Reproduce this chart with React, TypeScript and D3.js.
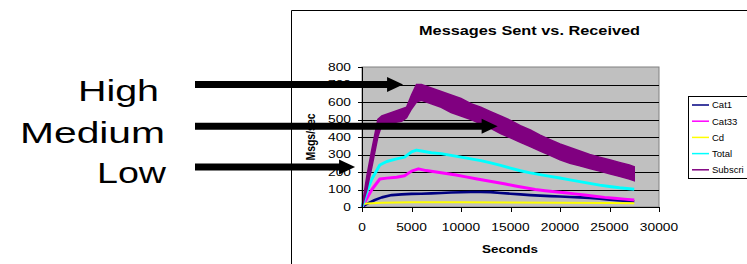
import React from "react";
import * as d3 from "d3";

const seriesNames = ["Cat1", "Cat33", "Cd", "Total", "Subscri"];
const seriesColors = ["#000080", "#FF00FF", "#FFFF00", "#00FFFF", "#800080"];

const cat1X = [0, 500, 1300, 2000, 3000, 4000, 5000, 6000, 7000, 8000, 9000, 10000, 11000, 12000, 13000, 14000, 15000, 16000, 17000, 18000, 19000, 20000, 21000, 22000, 23000, 24000, 25000, 26000, 27500];
const cat1Y = [0, 18, 40, 55, 68, 72, 75, 76, 78, 80, 83, 84, 86, 86, 85, 80, 76, 72, 68, 65, 62, 60, 57, 55, 52, 47, 42, 37, 32];

const cat33X = [0, 500, 1000, 1800, 2500, 3500, 4300, 5000, 5700, 6500, 7500, 8500, 9500, 10500, 11500, 12500, 13500, 14500, 15500, 16500, 17500, 18500, 19500, 20500, 21500, 22500, 23500, 24500, 25500, 26500, 27500];
const cat33Y = [0, 50, 100, 160, 165, 170, 178, 205, 218, 208, 200, 192, 183, 172, 162, 152, 142, 131, 120, 110, 100, 93, 87, 81, 75, 69, 62, 55, 50, 45, 40];

const cdX = [0, 500, 2000, 5000, 10000, 15000, 20000, 25000, 27500];
const cdY = [15, 20, 24, 27, 27, 26, 25, 23, 22];

const totalX = [0, 500, 1000, 1800, 2500, 3500, 4300, 5000, 5500, 6000, 7000, 8000, 9000, 10000, 11000, 12000, 13000, 14000, 15000, 16000, 17000, 18000, 19000, 20000, 21000, 22000, 23000, 24000, 25000, 26000, 27500];
const totalY = [0, 90, 160, 240, 260, 275, 285, 315, 325, 320, 310, 305, 295, 285, 275, 265, 252, 238, 222, 207, 195, 185, 175, 166, 155, 145, 135, 125, 117, 110, 102];

const subX = [0, 500, 1000, 1600, 2000, 3000, 4000, 4500, 5000, 5500, 6000, 7000, 8000, 9000, 10000, 11000, 12000, 13000, 14000, 15000, 16000, 17000, 18000, 19000, 20000, 21000, 22000, 23000, 24000, 25000, 26000, 27000, 27500];
const subHigh = [0, 180, 330, 500, 520, 540, 560, 570, 640, 700, 700, 680, 660, 640, 620, 590, 570, 545, 520, 495, 465, 440, 410, 385, 360, 340, 320, 300, 285, 270, 255, 240, 230];
const subLow = [0, 100, 230, 400, 470, 480, 490, 510, 560, 600, 610, 590, 570, 540, 520, 500, 475, 450, 420, 395, 370, 345, 320, 295, 270, 250, 235, 220, 205, 190, 175, 160, 150];

const xTicks = [0, 5000, 10000, 15000, 20000, 25000, 30000];
const yTicks = [0, 100, 200, 300, 400, 500, 600, 700, 800];

const arrowLabels = ["High", "Medium", "Low"];
const arrowY = [700, 462, 228];
const arrowTipX = [4150, 13700, -700];

const W = 747;
const H = 264;
const PL = 362, PR = 659, PT = 67, PB = 207;
const S = 1.31;

export default function App() {
  const x = d3.scaleLinear().domain([0, 30000]).range([PL, PR]);
  const y = d3.scaleLinear().domain([0, 800]).range([PB, PT]);
  const line = (xs: number[], ys: number[]) =>
    d3.line<number>().x((_, i) => x(xs[i])).y((v) => y(v))(ys) || "";
  const area = d3
    .area<number>()
    .x((_, i) => x(subX[i]))
    .y0((_, i) => y(subLow[i]))
    .y1((v) => y(v))(subHigh) || "";

  const lines = [
    { xs: cat1X, ys: cat1Y, c: seriesColors[0], w: 2.6 },
    { xs: cat33X, ys: cat33Y, c: seriesColors[1], w: 3 },
    { xs: cdX, ys: cdY, c: seriesColors[2], w: 2 },
    { xs: totalX, ys: totalY, c: seriesColors[3], w: 3 },
  ];

  const numW = (s: string, fs: number) => s.length * 0.556 * fs * S;

  const textX = [[78, 81], [20, 145], [97, 69]];
  const textBase = [101, 143, 183];

  return (
    <svg
      width={W}
      height={H}
      style={{ position: "absolute", left: 0, top: 0, background: "#fff" }}
      fontFamily="Arial, 'Liberation Sans', sans-serif"
    >
      <rect x={0} y={0} width={W} height={H} fill="#fff" />
      <path d={`M291.5,${H + 5}V10.5H${W + 5}`} fill="none" stroke="#000" strokeWidth={1} />
      <text x={529.5} y={35} fontSize={13.5} fontWeight="bold" textAnchor="middle" textLength={221} lengthAdjust="spacingAndGlyphs">
        Messages Sent vs. Received
      </text>
      <rect x={PL} y={PT} width={PR - PL} height={PB - PT} fill="#C0C0C0" stroke="#808080" strokeWidth={1} />
      {yTicks.slice(1, -1).map((t) => (
        <line key={t} x1={PL} x2={PR} y1={Math.round(y(t)) + 0.5} y2={Math.round(y(t)) + 0.5} stroke="#000" strokeWidth={1} />
      ))}
      {lines.map((l, i) => (
        <path key={i} d={line(l.xs, l.ys)} fill="none" stroke={l.c} strokeWidth={l.w} strokeLinejoin="round" />
      ))}
      <path d={area} fill={seriesColors[4]} stroke={seriesColors[4]} strokeWidth={1.5} />
      <line x1={PL + 0.5} x2={PL + 0.5} y1={PT} y2={PB} stroke="#000" />
      <line x1={PL} x2={PR} y1={PB + 0.5} y2={PB + 0.5} stroke="#000" />
      {yTicks.map((t) => (
        <g key={t}>
          <line x1={PL - 4} x2={PL} y1={Math.round(y(t)) + 0.5} y2={Math.round(y(t)) + 0.5} stroke="#000" />
          <text x={351} y={y(t)} dy="0.36em" fontSize={10.5} textAnchor="end" textLength={numW(String(t), 10.5)} lengthAdjust="spacingAndGlyphs">
            {t}
          </text>
        </g>
      ))}
      {xTicks.map((t) => (
        <g key={t}>
          <line x1={Math.round(x(t)) + 0.5} x2={Math.round(x(t)) + 0.5} y1={PB} y2={PB + 5} stroke="#000" />
          <text x={x(t)} y={230.5} fontSize={10.5} textAnchor="middle" textLength={numW(String(t), 10.5)} lengthAdjust="spacingAndGlyphs">
            {t}
          </text>
        </g>
      ))}
      <text x={510} y={253} fontSize={10.5} fontWeight="bold" textAnchor="middle" textLength={56} lengthAdjust="spacingAndGlyphs">
        Seconds
      </text>
      <g transform={`translate(315,${(PT + PB) / 2}) scale(1.3,1)`}>
        <text transform="rotate(-90)" fontSize={10.5} fontWeight="bold" textAnchor="middle">
          Msgs/sec
        </text>
      </g>
      <rect x={688.5} y={96.5} width={80} height={82} fill="#fff" stroke="#000" strokeWidth={1} />
      {seriesNames.map((n, i) => (
        <g key={n}>
          <line x1={692} x2={709} y1={105 + i * 16.2} y2={105 + i * 16.2} stroke={seriesColors[i]} strokeWidth={1.5} />
          <text x={712} y={105 + i * 16.2} dy="0.35em" fontSize={9.5}>
            {n}
          </text>
        </g>
      ))}
      {arrowLabels.map((lab, i) => {
        const ay = y(arrowY[i]);
        const tip = x(arrowTipX[i]);
        return (
          <g key={lab}>
            <text x={textX[i][0]} y={textBase[i]} fontSize={30} textLength={textX[i][1]} lengthAdjust="spacingAndGlyphs">
              {lab}
            </text>
            <line x1={195} x2={tip - 15} y1={ay} y2={ay} stroke="#000" strokeWidth={7} />
            <path d={`M${tip},${ay}L${tip - 16},${ay - 7.5}L${tip - 16},${ay + 7.5}Z`} fill="#000" />
          </g>
        );
      })}
    </svg>
  );
}
